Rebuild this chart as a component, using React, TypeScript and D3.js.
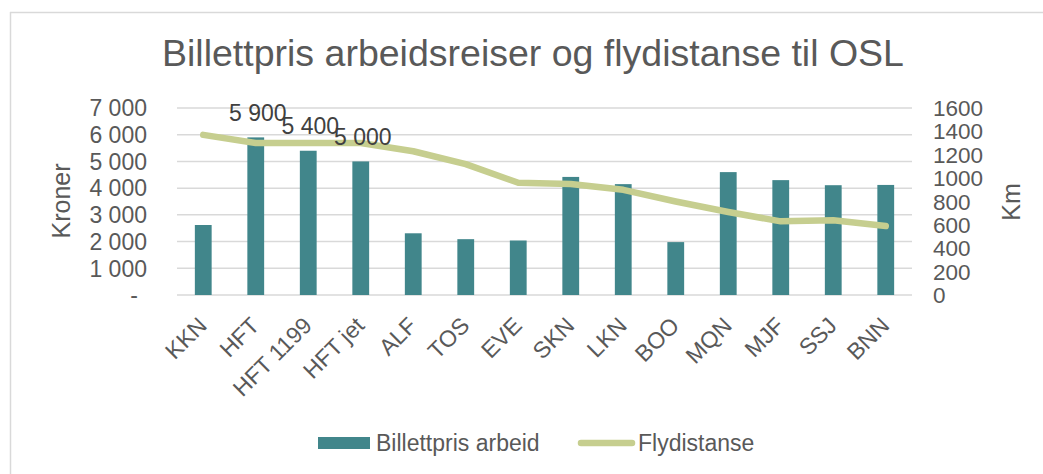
import React from 'react';
import * as d3 from 'd3';

// data
const categories = ['KKN', 'HFT', 'HFT 1199', 'HFT jet', 'ALF', 'TOS', 'EVE', 'SKN', 'LKN', 'BOO', 'MQN', 'MJF', 'SSJ', 'BNN'];
const billettpris = [2620, 5900, 5400, 5000, 2310, 2090, 2040, 4420, 4150, 1980, 4600, 4300, 4110, 4120];
const flydistanse = [1370, 1300, 1300, 1300, 1230, 1120, 960, 950, 900, 800, 710, 630, 640, 590];
const labelled = ['HFT', 'HFT 1199', 'HFT jet'];
const leftTicks = [0, 1000, 2000, 3000, 4000, 5000, 6000, 7000];
const rightTicks = [0, 200, 400, 600, 800, 1000, 1200, 1400, 1600];

const W = 1043;
const H = 474;
const TEAL = '#41868b';
const OLIVE = '#c6ce8f';
const TXT = '#595959';
const GRID = '#d9d9d9';
const FONT = '"Liberation Sans", Arial, sans-serif';

// norwegian thousands format, excel shows 0 as "-"
const fmtKr = (v: number) => (v === 0 ? '-' : d3.format(',')(v).replace(/,/g, ' '));

export default function App() {
  const x = d3.scaleBand().domain(categories).range([177, 912]).paddingInner(0.68).paddingOuter(0.34);
  const yL = d3.scaleLinear().domain([0, 7000]).range([295, 108]);
  const yR = d3.scaleLinear().domain([0, 1600]).range([295, 108]);
  const cx = (c: string) => (x(c) as number) + x.bandwidth() / 2;

  const line = d3
    .line<number>()
    .x((d, i) => cx(categories[i]))
    .y((d) => yR(d));

  return (
    <svg
      width={W}
      height={H}
      style={{ position: 'absolute', left: 0, top: 0, background: '#fff' }}
      fontFamily={FONT}
    >
      {/* chart frame, runs off the right and bottom edge */}
      <line x1={10} y1={12.5} x2={W} y2={12.5} stroke={GRID} strokeWidth={1.5} />
      <line x1={10.5} y1={12} x2={10.5} y2={H} stroke={GRID} strokeWidth={1.5} />

      <text x={533} y={66} textAnchor="middle" fontSize={37.5} fill={TXT}>
        Billettpris arbeidsreiser og flydistanse til OSL
      </text>

      {/* gridlines */}
      {leftTicks.map((t) => (
        <line key={t} x1={177} x2={912} y1={yL(t)} y2={yL(t)} stroke={GRID} strokeWidth={1.5} />
      ))}

      {/* left axis */}
      {leftTicks.map((t) => (
        <text
          key={t}
          x={t === 0 ? 138 : 147}
          y={yL(t)}
          dy="0.36em"
          textAnchor="end"
          fontSize={23}
          fill={TXT}
        >
          {fmtKr(t)}
        </text>
      ))}
      <text transform="translate(70,201) rotate(-90)" textAnchor="middle" fontSize={25} fill={TXT}>
        Kroner
      </text>

      {/* right axis */}
      {rightTicks.map((t) => (
        <text key={t} x={933} y={yR(t)} dy="0.36em" textAnchor="start" fontSize={22.5} fill={TXT}>
          {t}
        </text>
      ))}
      <text transform="translate(1020,202) rotate(-90)" textAnchor="middle" fontSize={25} fill={TXT}>
        Km
      </text>

      {/* bars */}
      {categories.map((c, i) => (
        <rect
          key={c}
          x={x(c)}
          y={yL(billettpris[i])}
          width={x.bandwidth()}
          height={yL(0) - yL(billettpris[i])}
          fill={TEAL}
        />
      ))}

      {/* line */}
      <path
        d={line(flydistanse) || ''}
        fill="none"
        stroke={OLIVE}
        strokeWidth={6.5}
        strokeLinejoin="round"
        strokeLinecap="round"
      />

      {/* data labels */}
      {categories.map((c, i) =>
        labelled.includes(c) ? (
          <text
            key={c}
            x={cx(c) + 2}
            y={yL(billettpris[i]) - 16.5}
            textAnchor="middle"
            fontSize={23}
            fill="#404040"
          >
            {fmtKr(billettpris[i])}
          </text>
        ) : null
      )}

      {/* category labels */}
      {categories.map((c) => (
        <text
          key={c}
          transform={`translate(${cx(c) + 5},327) rotate(-45)`}
          textAnchor="end"
          fontSize={23}
          fill={TXT}
        >
          {c}
        </text>
      ))}

      {/* legend */}
      <rect x={318} y={437} width={52} height={12} fill={TEAL} />
      <text x={376} y={451} fontSize={23} fill={TXT}>
        Billettpris arbeid
      </text>
      <line x1={581} x2={632} y1={443} y2={443} stroke={OLIVE} strokeWidth={6.5} strokeLinecap="round" />
      <text x={638} y={451} fontSize={23} fill={TXT}>
        Flydistanse
      </text>
    </svg>
  );
}
